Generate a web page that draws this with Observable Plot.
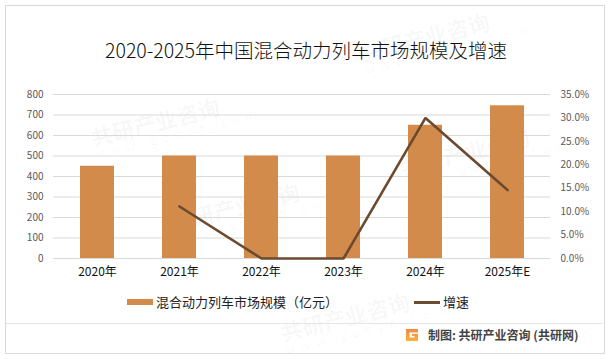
<!DOCTYPE html>
<html>
<head>
<meta charset="utf-8">
<script src="https://cdn.jsdelivr.net/npm/d3@7"></script>
<script src="https://cdn.jsdelivr.net/npm/@observablehq/plot@0.6"></script>
<style>
  html, body { margin: 0; padding: 0; background: #fff; }
  #root { position: relative; width: 612px; height: 359px; overflow: hidden; background: #fff;
    font-family: "Noto Sans CJK SC", "Noto Sans", sans-serif; }
  #frame { position: absolute; left: 5px; top: 5px; width: 598px; height: 347px; border: 1px solid #d9d9d9; box-sizing: content-box; }
  #title { position: absolute; left: 0; width: 612px; top: 37px; text-align: center; font-size: 19.5px; font-weight: 300; color: #111; line-height: 26px; }
  #chart { position: absolute; left: 0; top: 80px; }
  .leg { position: absolute; top: 293px; font-size: 13px; color: #222; line-height: 18px; display: flex; align-items: center; }
  #sep { position: absolute; left: 6px; width: 597px; top: 323px; height: 1px; background: #e6e6e6; }
  #footer { position: absolute; left: 405px; top: 327px; font-size: 12px; color: #444; font-weight: bold; line-height: 16px; display: flex; align-items: center; }
  .wm { position: absolute; color: rgba(0,0,0,0.04); font-weight: bold; transform: rotate(-14deg); white-space: nowrap; font-size: 22px; line-height: 22px; }
  .wm small { display: block; font-size: 12px; letter-spacing: 6px; font-weight: normal; line-height: 14px; }
</style>
</head>
<body>
<div id="root">
  <div id="frame"></div>
  <div class="wm" style="left:90px;top:105px;">共研产业咨询<small>www.gonyn.com</small></div>
  <div class="wm" style="left:360px;top:20px;">共研产业咨询<small>www.gonyn.com</small></div>
  <div class="wm" style="left:170px;top:190px;">共研产业咨询<small>www.gonyn.com</small></div>
  <div class="wm" style="left:400px;top:135px;">共研产业咨询<small>www.gonyn.com</small></div>
  <div class="wm" style="left:280px;top:300px;">共研产业咨询<small>www.gonyn.com</small></div>
  <div id="title"></div>
  <div id="chart"></div>
  <div class="leg" id="leg1" style="left:127px;"></div>
  <div class="leg" id="leg2" style="left:414px;"></div>
  <div id="sep"></div>
  <div id="footer"></div>
</div>
<script>
// ---- data ----
const titleText = "2020-2025年中国混合动力列车市场规模及增速";
const years = ["2020年", "2021年", "2022年", "2023年", "2024年", "2025年E"];
const marketSize = [450, 500, 500, 500, 650, 745];        // 亿元
const growthRate = [null, 11.1, 0, 0, 30.0, 14.6];        // %
const leftTicks = [0, 100, 200, 300, 400, 500, 600, 700, 800];
const rightTicks = [0, 5, 10, 15, 20, 25, 30, 35];          // %
const seriesNames = ["混合动力列车市场规模（亿元）", "增速"];
const footerText = "制图: 共研产业咨询 (共研网)";

const barColor = "#d38b4c";
const lineColor = "#6b4a2f";
const yMax = 800, rMax = 35;

const rows = years.map((y, i) => ({year: y, size: marketSize[i], growth: growthRate[i]}));

document.getElementById("title").textContent = titleText;

const chart = Plot.plot({
  width: 612,
  height: 210,
  marginLeft: 53,
  marginRight: 62,
  marginTop: 14,
  marginBottom: 32,
  style: {fontFamily: "'Noto Sans CJK SC', sans-serif", background: "transparent", overflow: "visible"},
  x: {domain: years, paddingInner: 0.59, paddingOuter: 0.295, label: null},
  y: {domain: [0, yMax], label: null},
  marks: [
    Plot.gridY(leftTicks, {stroke: "#d9d9d9", strokeOpacity: 1}),
    Plot.barY(rows, {x: "year", y: "size", fill: barColor}),
    Plot.lineY(rows, {x: "year", y: d => d.growth == null ? NaN : d.growth * yMax / rMax,
      stroke: lineColor, strokeWidth: 2.6, strokeLinejoin: "miter"}),
    Plot.axisY(leftTicks, {anchor: "left", tickSize: 0, tickPadding: 10, fontSize: 10, fill: "#595959", label: null}),
    Plot.axisY(rightTicks.map(v => v * yMax / rMax), {anchor: "right", tickSize: 0, tickPadding: 10, fontSize: 10, fill: "#595959", label: null,
      tickFormat: d => (d / yMax * rMax).toFixed(1) + "%"}),
    Plot.axisX({tickSize: 0, tickPadding: 9, fontSize: 12, fill: "#111", label: null})
  ]
});
document.getElementById("chart").appendChild(chart);

// legend
document.getElementById("leg1").innerHTML =
  `<span style="display:inline-block;width:26px;height:6px;background:${barColor};margin-right:3px"></span><span></span>`;
document.getElementById("leg1").lastChild.textContent = seriesNames[0];
document.getElementById("leg2").innerHTML =
  `<span style="display:inline-block;width:26px;height:3px;background:${lineColor};margin-right:3px"></span><span></span>`;
document.getElementById("leg2").lastChild.textContent = seriesNames[1];

// footer with logo
const footer = document.getElementById("footer");
footer.innerHTML = `<svg width="14" height="14" viewBox="0 0 14 14" style="margin-right:9px">
  <defs><linearGradient id="lg" x1="0" y1="0" x2="0" y2="1"><stop offset="0" stop-color="#f08a4b"/><stop offset="1" stop-color="#f5b335"/></linearGradient></defs>
  <path d="M1 1 H13 V4.5 H4.5 V9.5 H9.5 V8 H7 V5.8 H13 V13 H1 Z" fill="url(#lg)"/></svg><span></span>`;
footer.lastChild.textContent = footerText;
</script>
</body>
</html>
